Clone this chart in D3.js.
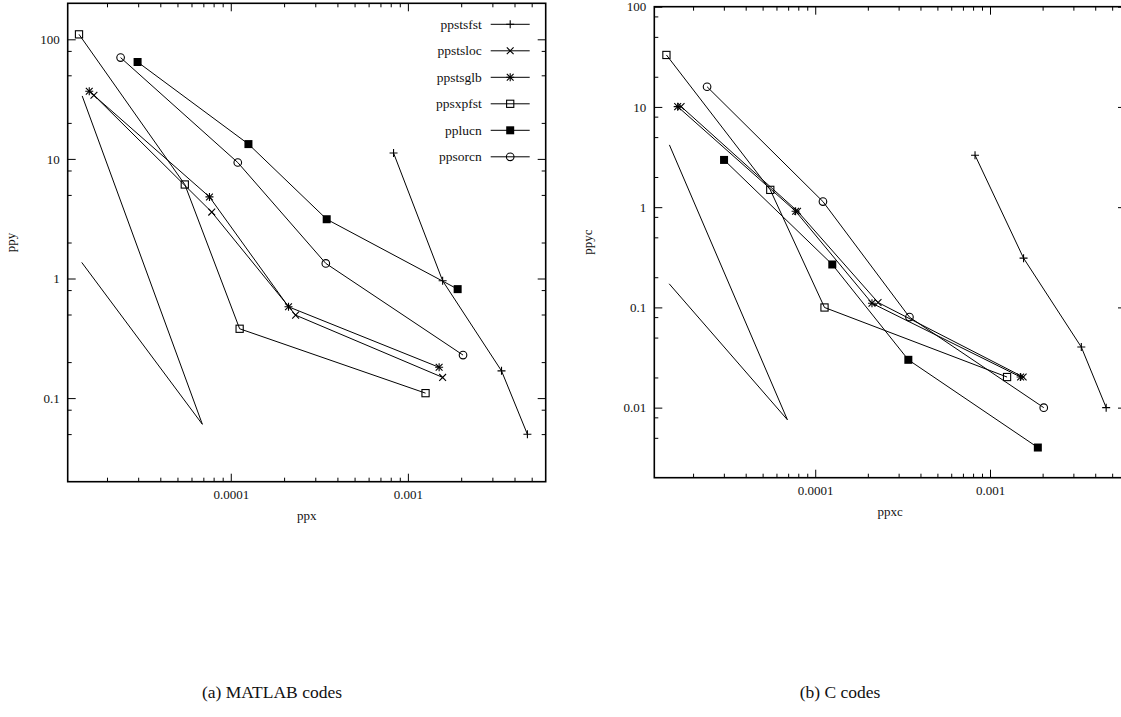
<!DOCTYPE html>
<html>
<head>
<meta charset="utf-8">
<script src="https://cdn.jsdelivr.net/npm/d3@7"></script>
<style>
  body { margin: 0; background: #fff; }
  svg { display: block; }
  text { font-family: "Liberation Serif", "Times New Roman", serif; fill: #111; }
</style>
</head>
<body>
<script>
// Series names (legend order)
const seriesNames = ["ppstsfst", "ppstsloc", "ppstsglb", "ppsxpfst", "pplucn", "ppsorcn"];

// (a) MATLAB codes
const matlabX = {
  ppstsfst: [8.30e-4, 1.571e-3, 3.378e-3, 4.73e-3],
  ppstsloc: [1.688e-5, 7.81e-5, 2.323e-4, 1.571e-3],
  ppstsglb: [1.588e-5, 7.58e-5, 2.118e-4, 1.501e-3],
  ppsxpfst: [1.39e-5, 5.50e-5, 1.122e-4, 1.258e-3],
  pplucn:   [2.977e-5, 1.258e-4, 3.48e-4, 1.91e-3],
  ppsorcn:  [2.387e-5, 1.095e-4, 3.44e-4, 2.048e-3]
};
const matlabY = {
  ppstsfst: [11.2, 0.957, 0.169, 0.0498],
  ppstsloc: [34.05, 3.59, 0.494, 0.149],
  ppstsglb: [36.8, 4.81, 0.58, 0.181],
  ppsxpfst: [110, 6.11, 0.380, 0.110],
  pplucn:   [64.6, 13.3, 3.13, 0.815],
  ppsorcn:  [70.3, 9.33, 1.337, 0.229]
};
// slope guide (no legend entry)
const matlabGuideX = [1.449e-5, 6.91e-5, 1.44e-5];
const matlabGuideY = [33.6, 0.0604, 1.363];

// (b) C codes
const cX = {
  ppstsfst: [8.21e-4, 1.556e-3, 3.33e-3, 4.62e-3],
  ppstsloc: [1.708e-5, 7.92e-5, 2.288e-4, 1.548e-3],
  ppstsglb: [1.633e-5, 7.72e-5, 2.112e-4, 1.497e-3],
  ppsxpfst: [1.408e-5, 5.53e-5, 1.13e-4, 1.252e-3],
  pplucn:   [3.008e-5, 1.252e-4, 3.41e-4, 1.878e-3],
  ppsorcn:  [2.405e-5, 1.107e-4, 3.46e-4, 2.03e-3]
};
const cY = {
  ppstsfst: [3.30, 0.31, 0.0402, 0.01],
  ppstsloc: [10.1, 0.91, 0.112, 0.0202],
  ppstsglb: [10.07, 0.912, 0.110, 0.0202],
  ppsxpfst: [33.0, 1.488, 0.0998, 0.0202],
  pplucn:   [2.96, 0.268, 0.030, 0.004],
  ppsorcn:  [15.9, 1.137, 0.08, 0.01]
};
const cGuideX = [1.464e-5, 6.93e-5, 1.46e-5];
const cGuideY = [4.18, 0.00757, 0.172];

// axis ranges and ticks
const xDomain = [1.2e-5, 6e-3];
const xMajor = [1e-4, 1e-3];
const xMajorLabels = ["0.0001", "0.001"];
const matlabYDomain = [0.02, 200];
const matlabYMajor = [0.1, 1, 10, 100];
const cYDomain = [0.002, 100];
const cYMajor = [0.01, 0.1, 1, 10, 100];
const yMinorMult = [2, 5, 8];

const W = 1121, H = 717;
const svg = d3.select("body").append("svg")
  .attr("width", W)
  .attr("height", H);

const markerShape = {
  ppstsfst: "plus",
  ppstsloc: "cross",
  ppstsglb: "star",
  ppsxpfst: "square",
  pplucn: "filled",
  ppsorcn: "circle"
};

function drawMarker(g, kind, x, y) {
  const s = 4;
  if (kind === "plus" || kind === "star") {
    g.append("path").attr("d", `M${x - s},${y}H${x + s}M${x},${y - s}V${y + s}`)
      .attr("stroke", "#000").attr("stroke-width", 1.1).attr("fill", "none");
  }
  if (kind === "cross" || kind === "star") {
    const c = 3.4;
    g.append("path").attr("d", `M${x - c},${y - c}L${x + c},${y + c}M${x - c},${y + c}L${x + c},${y - c}`)
      .attr("stroke", "#000").attr("stroke-width", 1.1).attr("fill", "none");
  }
  if (kind === "square") {
    g.append("rect").attr("x", x - 3.6).attr("y", y - 3.6).attr("width", 7.2).attr("height", 7.2)
      .attr("fill", "none").attr("stroke", "#000").attr("stroke-width", 1.1);
  }
  if (kind === "filled") {
    g.append("rect").attr("x", x - 4).attr("y", y - 4).attr("width", 8).attr("height", 8)
      .attr("fill", "#000");
  }
  if (kind === "circle") {
    g.append("circle").attr("cx", x).attr("cy", y).attr("r", 3.8)
      .attr("fill", "none").attr("stroke", "#000").attr("stroke-width", 1.1);
  }
}

function minorTicks(domain, mults) {
  const out = [];
  const lo = Math.floor(Math.log10(domain[0])), hi = Math.ceil(Math.log10(domain[1]));
  for (let e = lo; e <= hi; e++) {
    mults.forEach(m => {
      const v = m * Math.pow(10, e);
      if (v > domain[0] && v < domain[1]) out.push(v);
    });
  }
  return out;
}

function drawPanel(opt) {
  const g = svg.append("g").attr("transform", `translate(${opt.left},${opt.top})`);
  const w = opt.width, h = opt.height;

  const x = d3.scaleLog().domain(xDomain).range([0, w]);
  const y = d3.scaleLog().domain(opt.yDomain).range([h, 0]);

  const xMinor = minorTicks(xDomain, [2, 3, 4, 5, 6, 7, 8, 9]);
  const yMinor = minorTicks(opt.yDomain, yMinorMult);

  const style = sel => {
    sel.select(".domain").remove();
    sel.selectAll("line").attr("stroke", "#000").attr("stroke-width", 1);
    sel.selectAll("text").style("font-size", "13px").attr("fill", "#111");
  };

  // bottom
  g.append("g").attr("transform", `translate(0,${h})`)
    .call(d3.axisBottom(x).tickValues(xMajor).tickSize(-8).tickPadding(8)
      .tickFormat((d, i) => xMajorLabels[i]))
    .call(style);
  g.append("g").attr("transform", `translate(0,${h})`)
    .call(d3.axisBottom(x).tickValues(xMinor).tickSize(-4).tickFormat(""))
    .call(style);
  // top (mirror)
  g.append("g")
    .call(d3.axisTop(x).tickValues(xMajor).tickSize(-8).tickFormat(""))
    .call(style);
  g.append("g")
    .call(d3.axisTop(x).tickValues(xMinor).tickSize(-4).tickFormat(""))
    .call(style);
  // left
  g.append("g")
    .call(d3.axisLeft(y).tickValues(opt.yMajor).tickSize(-8).tickPadding(8)
      .tickFormat(d3.format("~g")))
    .call(style);
  g.append("g")
    .call(d3.axisLeft(y).tickValues(yMinor).tickSize(-4).tickFormat(""))
    .call(style);
  // right (mirror)
  g.append("g").attr("transform", `translate(${w},0)`)
    .call(d3.axisRight(y).tickValues(opt.yMajor).tickSize(-8).tickFormat(""))
    .call(style);
  g.append("g").attr("transform", `translate(${w},0)`)
    .call(d3.axisRight(y).tickValues(yMinor).tickSize(-4).tickFormat(""))
    .call(style);

  // border
  g.append("rect").attr("width", w).attr("height", h)
    .attr("fill", "none").attr("stroke", "#000").attr("stroke-width", 1.6);

  // axis titles
  g.append("text").attr("x", w / 2).attr("y", h + 38.5)
    .attr("text-anchor", "middle").style("font-size", "13px").text(opt.xTitle);
  g.append("text")
    .attr("transform", `translate(${opt.yTitleX},${h / 2}) rotate(-90)`)
    .attr("text-anchor", "middle").style("font-size", "13px").text(opt.yTitle);

  const line = d3.line().x(d => x(d[0])).y(d => y(d[1]));

  // guide line
  const guide = opt.guideX.map((v, i) => [v, opt.guideY[i]]);
  g.append("path").datum(guide).attr("d", line)
    .attr("fill", "none").attr("stroke", "#000").attr("stroke-width", 1);

  seriesNames.forEach(name => {
    const pts = opt.xs[name].map((v, i) => [v, opt.ys[name][i]]);
    g.append("path").datum(pts).attr("d", line)
      .attr("fill", "none").attr("stroke", "#000").attr("stroke-width", 1);
    pts.forEach(p => drawMarker(g, markerShape[name], x(p[0]), y(p[1])));
  });

  if (opt.legend) {
    const lg = g.append("g").attr("transform", `translate(${414},${21})`);
    seriesNames.forEach((name, i) => {
      const yy = i * 26.5;
      lg.append("text").attr("x", 0).attr("y", yy).attr("dy", "0.33em")
        .attr("text-anchor", "end").style("font-size", "13.5px").text(name);
      lg.append("line").attr("x1", 9).attr("x2", 48).attr("y1", yy).attr("y2", yy)
        .attr("stroke", "#000").attr("stroke-width", 1);
      drawMarker(lg, markerShape[name], 28.5, yy);
    });
  }
}

drawPanel({
  left: 67.7, top: 3.3, width: 478, height: 478.4,
  yDomain: matlabYDomain, yMajor: matlabYMajor,
  xs: matlabX, ys: matlabY, guideX: matlabGuideX, guideY: matlabGuideY,
  xTitle: "ppx", yTitle: "ppy", yTitleX: -53, legend: true
});

drawPanel({
  left: 654.3, top: 6.7, width: 471.7, height: 471,
  yDomain: cYDomain, yMajor: cYMajor,
  xs: cX, ys: cY, guideX: cGuideX, guideY: cGuideY,
  xTitle: "ppxc", yTitle: "ppyc", yTitleX: -62.6, legend: false
});

// sub-captions
svg.append("text").attr("x", 272).attr("y", 698).attr("text-anchor", "middle")
  .style("font-size", "17.5px").text("(a) MATLAB codes");
svg.append("text").attr("x", 840).attr("y", 698).attr("text-anchor", "middle")
  .style("font-size", "17.5px").text("(b) C codes");
</script>
</body>
</html>
